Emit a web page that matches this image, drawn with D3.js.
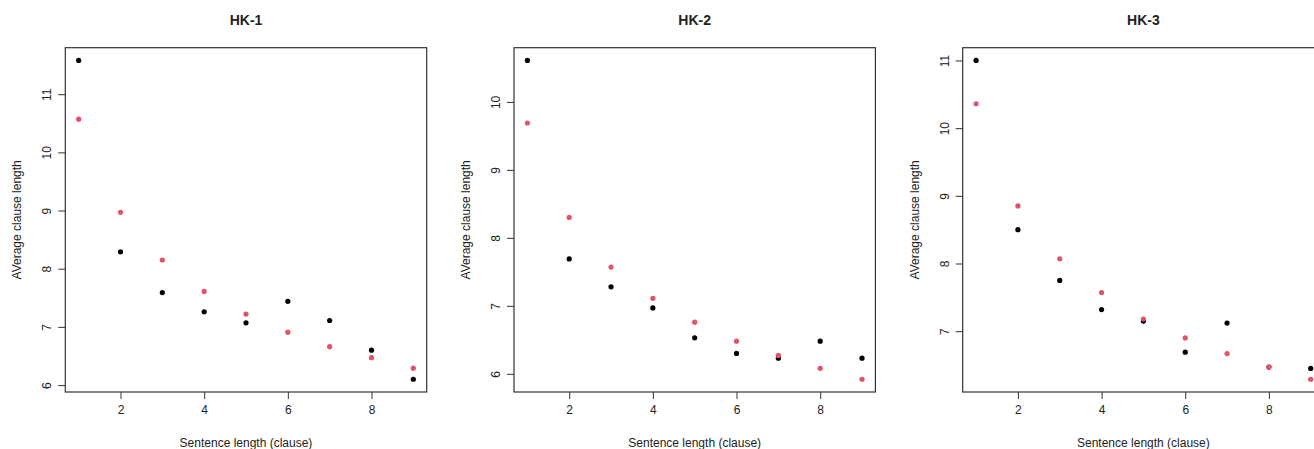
<!DOCTYPE html>
<html lang="en">
<head>
  <meta charset="UTF-8">
  <title>Average clause length</title>
  <style>
  body { margin: 0; background: #fff; }
  svg text { font-family: "Liberation Sans", Arial, sans-serif; fill: #222; }
  .title { font-size: 14px; font-weight: bold; }
  .axis-label { font-size: 12px; }
  .axis text { font-size: 12px; fill: #222; }
  .axis line { stroke: #333; }
  .axis path { display: none; }
  </style>
</head>
<body>
  <svg id="chart" width="1314" height="449"></svg>
  <script src="https://cdn.jsdelivr.net/npm/d3@7"></script>
  <script>
  // sentence length (clause) on the x axis
  const sentenceLength = [1, 2, 3, 4, 5, 6, 7, 8, 9];

  const panelTitles = ['HK-1', 'HK-2', 'HK-3'];

  // black points
  const hk1Black = [11.58, 8.29, 7.59, 7.26, 7.07, 7.44, 7.11, 6.60, 6.10];
  const hk2Black = [10.61, 7.69, 7.28, 6.97, 6.53, 6.30, 6.23, 6.48, 6.23];
  const hk3Black = [11.00, 8.50, 7.75, 7.32, 7.15, 6.69, 7.12, 6.47, 6.45];
  // red points
  const hk1Red = [10.57, 8.97, 8.15, 7.61, 7.22, 6.91, 6.66, 6.47, 6.29];
  const hk2Red = [9.69, 8.30, 7.57, 7.11, 6.76, 6.48, 6.27, 6.08, 5.92];
  const hk3Red = [10.36, 8.85, 8.07, 7.57, 7.18, 6.90, 6.67, 6.47, 6.29];

  const xTicks = [2, 4, 6, 8];
  const yTicks = [[6, 7, 8, 9, 10, 11], [6, 7, 8, 9, 10], [7, 8, 9, 10, 11]];

  const blackSeries = [hk1Black, hk2Black, hk3Black];
  const redSeries = [hk1Red, hk2Red, hk3Red];

  const svg = d3.select('#chart');
  const panelStep = 448.7;
  const plot = { left: 65.3, top: 47.7, width: 361.4, height: 344.3 };

  // R style: range padded by 4% on each side
  function padded(vals) {
    const [lo, hi] = d3.extent(vals);
    const pad = (hi - lo) * 0.04;
    return [lo - pad, hi + pad];
  }

  panelTitles.forEach((title, i) => {
    const g = svg.append('g')
      .attr('transform', `translate(${plot.left + i * panelStep}, ${plot.top})`);

    const x = d3.scaleLinear().domain(padded(sentenceLength)).range([0, plot.width]);
    const y = d3.scaleLinear()
      .domain(padded(blackSeries[i].concat(redSeries[i])))
      .range([plot.height, 0]);

    // x axis
    g.append('g').attr('class', 'axis')
      .attr('transform', `translate(0, ${plot.height})`)
      .call(d3.axisBottom(x).tickValues(xTicks).tickFormat(d3.format('d'))
        .tickSize(7).tickPadding(6));

    // y axis, labels turned like R's las=0
    const ya = g.append('g').attr('class', 'axis')
      .call(d3.axisLeft(y).tickValues(yTicks[i]).tickFormat(d3.format('d'))
        .tickSize(7).tickPadding(0));
    ya.selectAll('.tick text')
      .attr('x', null).attr('dy', null)
      .attr('text-anchor', 'middle')
      .attr('transform', 'translate(-18, 0) rotate(-90)')
      .attr('dominant-baseline', 'central');

    // frame
    g.append('rect')
      .attr('width', plot.width).attr('height', plot.height)
      .attr('fill', 'none').attr('stroke', '#333').attr('stroke-width', 1.2);

    // points
    g.selectAll('circle.black')
      .data(blackSeries[i])
      .join('circle')
        .attr('class', 'black')
        .attr('cx', (d, k) => x(sentenceLength[k]))
        .attr('cy', d => y(d))
        .attr('r', 2.6)
        .attr('fill', '#000');
    g.selectAll('circle.red')
      .data(redSeries[i])
      .join('circle')
        .attr('class', 'red')
        .attr('cx', (d, k) => x(sentenceLength[k]))
        .attr('cy', d => y(d))
        .attr('r', 2.6)
        .attr('fill', '#DF536B');

    // title
    g.append('text').attr('class', 'title')
      .attr('x', plot.width / 2).attr('y', 25 - plot.top)
      .attr('text-anchor', 'middle')
      .text(title);

    // axis titles
    g.append('text').attr('class', 'axis-label')
      .attr('x', plot.width / 2).attr('y', 447 - plot.top)
      .attr('text-anchor', 'middle')
      .text('Sentence length (clause)');
    g.append('text').attr('class', 'axis-label')
      .attr('transform', `translate(-48, ${plot.height / 2}) rotate(-90)`)
      .attr('text-anchor', 'middle')
      .attr('dominant-baseline', 'central')
      .text('AVerage clause length');
  });
  </script>
</body>
</html>
